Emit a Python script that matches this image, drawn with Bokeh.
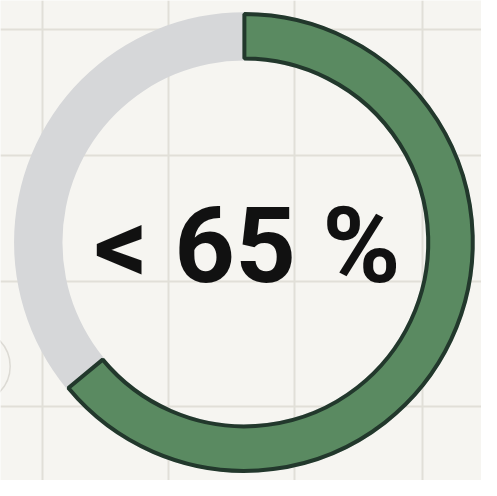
import math
from bokeh.plotting import figure
from bokeh.models import Range1d, FixedTicker
from bokeh.core.properties import value
from bokeh.embed import file_html
from bokeh.resources import INLINE

# data
share_pct = [64]            # filled portion of the ring (percent)
label = ["< 65 %"]

# layout: data space = reference pixel space (y flipped)
W, H = 481, 480
RW, RH = 497, 496
cx, cy = 252, RH - 250
r_out, r_in = 238, 188

p = figure(width=W, height=H, output_backend="svg", toolbar_location=None,
           x_range=Range1d(0, RW), y_range=Range1d(0, RH), min_border=0)
p.background_fill_color = "#f6f5f1"
p.border_fill_color = "#f6f5f1"
p.outline_line_color = None
p.xaxis.visible = False
p.yaxis.visible = False
p.xgrid.ticker = FixedTicker(ticks=[43, 174, 304, 436])
p.ygrid.ticker = FixedTicker(ticks=[RH - 30, RH - 160, RH - 290, RH - 420])
for g in (p.xgrid, p.ygrid):
    g.grid_line_color = "#e1dfd8"
    g.grid_line_width = 2

# faint circle at left edge (paper decoration)
p.circle(x=[-28], y=[RH - 378], radius=38, fill_color=None,
         line_color="#dcdad4", line_width=1.5)

# background track
p.annulus(x=[cx], y=[cy], inner_radius=r_in, outer_radius=r_out,
          fill_color="#d6d7d9", line_color=None)

# filled portion
start = math.pi / 2
end = start - 2 * math.pi * share_pct[0] / 100
p.annular_wedge(x=[cx], y=[cy], inner_radius=r_in + 2, outer_radius=r_out - 2,
                start_angle=[start], end_angle=[end], direction="clock",
                fill_color="#5a8a61", line_color="#22382c", line_width=4)

p.text(x=[255], y=[RH - 254], text=label, text_font=value("Roboto"),
       text_font_style="bold", text_font_size="106px", text_color="#111111",
       text_align="center", text_baseline="middle")

open("out.html", "w").write(file_html(p, INLINE))
